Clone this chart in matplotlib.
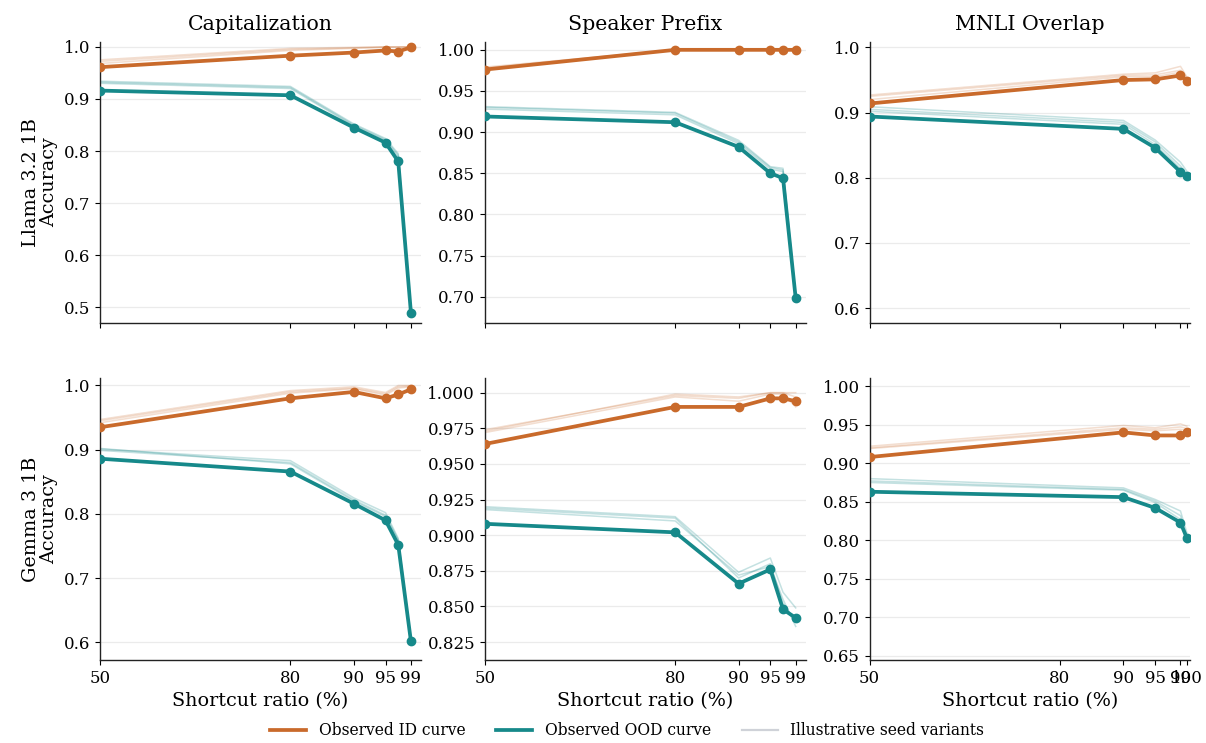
import matplotlib

matplotlib.use("Agg")
import matplotlib.pyplot as plt  # noqa: E402
from matplotlib.lines import Line2D  # noqa: E402
from matplotlib.ticker import MultipleLocator  # noqa: E402

ID_COL, OOD_COL, SEED_COL, GRID = "#c96a2b", "#16898a", "#cfd2d8", "#ebebeb"

plt.rcParams.update({
    "font.family": "DejaVu Serif", "font.size": 12,
    "axes.edgecolor": "#222222", "axes.linewidth": 1.0,
    "xtick.labelsize": 12, "ytick.labelsize": 12,
})

X_STD = [50, 80, 90, 95, 97, 99]
X_MNLI = [50, 90, 95, 99, 100]
XTICKS_STD = [50, 80, 90, 95, 99]
XTICKS_MNLI = [50, 80, 90, 95, 99, 100]

TASKS = ["Capitalization", "Speaker Prefix", "MNLI Overlap"]
MODELS = ["Llama 3.2 1B", "Gemma 3 1B"]

# Llama 3.2 1B
L_CAP_ID = [0.961, 0.983, 0.989, 0.993, 0.991, 0.999]
L_CAP_ID_SEEDS = [[0.972, 0.995, 0.998, 1.000, 1.000, 1.000],
                  [0.968, 0.993, 0.997, 0.999, 0.999, 1.000],
                  [0.975, 0.997, 0.999, 1.000, 1.000, 1.000]]
L_CAP_OOD = [0.916, 0.907, 0.845, 0.816, 0.780, 0.490]
L_CAP_OOD_SEEDS = [[0.932, 0.922, 0.850, 0.822, 0.792, 0.492],
                   [0.930, 0.920, 0.848, 0.820, 0.788, 0.490],
                   [0.934, 0.924, 0.852, 0.824, 0.795, 0.494]]

L_SPK_ID = [0.976, 1.000, 1.000, 1.000, 1.000, 1.000]
L_SPK_ID_SEEDS = [[0.978, 1.000, 1.000, 1.000, 1.000, 1.000],
                  [0.977, 1.000, 1.000, 1.000, 1.000, 1.000],
                  [0.979, 1.000, 1.000, 1.000, 1.000, 1.000]]
L_SPK_OOD = [0.919, 0.912, 0.882, 0.850, 0.844, 0.698]
L_SPK_OOD_SEEDS = [[0.930, 0.923, 0.888, 0.857, 0.854, 0.700],
                   [0.928, 0.921, 0.886, 0.855, 0.852, 0.699],
                   [0.931, 0.924, 0.890, 0.858, 0.856, 0.701]]

L_MNLI_ID = [0.914, 0.950, 0.951, 0.957, 0.949]
L_MNLI_ID_SEEDS = [[0.927, 0.959, 0.961, 0.971, 0.955],
                   [0.925, 0.957, 0.958, 0.965, 0.953],
                   [0.920, 0.955, 0.955, 0.962, 0.951]]
L_MNLI_OOD = [0.894, 0.875, 0.846, 0.809, 0.802]
L_MNLI_OOD_SEEDS = [[0.909, 0.888, 0.858, 0.824, 0.810],
                    [0.905, 0.885, 0.855, 0.818, 0.806],
                    [0.902, 0.882, 0.851, 0.814, 0.804]]

# Gemma 3 1B
G_CAP_ID = [0.935, 0.980, 0.990, 0.980, 0.986, 0.994]
G_CAP_ID_SEEDS = [[0.947, 0.992, 0.998, 0.989, 1.000, 1.000],
                  [0.945, 0.990, 0.996, 0.987, 0.998, 0.999],
                  [0.942, 0.988, 0.995, 0.985, 0.996, 0.998]]
G_CAP_OOD = [0.886, 0.866, 0.816, 0.790, 0.752, 0.602]
G_CAP_OOD_SEEDS = [[0.901, 0.883, 0.825, 0.802, 0.762, 0.604],
                   [0.899, 0.880, 0.822, 0.798, 0.760, 0.600],
                   [0.902, 0.878, 0.820, 0.796, 0.758, 0.606]]

G_SPK_ID = [0.964, 0.990, 0.990, 0.996, 0.996, 0.994]
G_SPK_ID_SEEDS = [[0.973, 0.999, 0.997, 1.000, 1.000, 1.000],
                  [0.972, 0.997, 0.994, 0.999, 0.999, 0.990],
                  [0.974, 0.998, 0.996, 1.000, 1.000, 0.997]]
G_SPK_OOD = [0.908, 0.902, 0.866, 0.876, 0.848, 0.842]
G_SPK_OOD_SEEDS = [[0.920, 0.913, 0.874, 0.884, 0.860, 0.849],
                   [0.918, 0.910, 0.872, 0.878, 0.855, 0.836],
                   [0.919, 0.912, 0.870, 0.880, 0.852, 0.840]]

G_MNLI_ID = [0.908, 0.940, 0.936, 0.936, 0.941]
G_MNLI_ID_SEEDS = [[0.922, 0.949, 0.946, 0.951, 0.948],
                   [0.919, 0.944, 0.942, 0.944, 0.942],
                   [0.920, 0.946, 0.944, 0.947, 0.945]]
G_MNLI_OOD = [0.863, 0.856, 0.842, 0.823, 0.803]
G_MNLI_OOD_SEEDS = [[0.880, 0.868, 0.853, 0.838, 0.810],
                    [0.875, 0.865, 0.849, 0.827, 0.797],
                    [0.877, 0.866, 0.851, 0.832, 0.805]]

YLIMS = [[(0.47, 1.01), (0.668, 1.01), (0.577, 1.009)],
         [(0.573, 1.011), (0.8126, 1.01), (0.645, 1.01)]]
YSTEPS = [[0.1, 0.05, 0.1], [0.1, 0.025, 0.05]]

PANELS = [
    [(X_STD, XTICKS_STD, L_CAP_ID, L_CAP_ID_SEEDS, L_CAP_OOD, L_CAP_OOD_SEEDS),
     (X_STD, XTICKS_STD, L_SPK_ID, L_SPK_ID_SEEDS, L_SPK_OOD, L_SPK_OOD_SEEDS),
     (X_MNLI, XTICKS_MNLI, L_MNLI_ID, L_MNLI_ID_SEEDS, L_MNLI_OOD, L_MNLI_OOD_SEEDS)],
    [(X_STD, XTICKS_STD, G_CAP_ID, G_CAP_ID_SEEDS, G_CAP_OOD, G_CAP_OOD_SEEDS),
     (X_STD, XTICKS_STD, G_SPK_ID, G_SPK_ID_SEEDS, G_SPK_OOD, G_SPK_OOD_SEEDS),
     (X_MNLI, XTICKS_MNLI, G_MNLI_ID, G_MNLI_ID_SEEDS, G_MNLI_OOD, G_MNLI_OOD_SEEDS)],
]

fig, axes = plt.subplots(2, 3, figsize=(12.06, 7.43), dpi=100)
fig.subplots_adjust(left=0.083, right=0.987, top=0.944, bottom=0.112,
                    wspace=0.2, hspace=0.197)

for r in range(2):
    for c in range(3):
        ax = axes[r, c]
        x, xt, id_main, id_seeds, ood_main, ood_seeds = PANELS[r][c]
        for s in id_seeds:
            ax.plot(x, s, color=ID_COL, lw=1.1, alpha=0.22, zorder=2)
        for s in ood_seeds:
            ax.plot(x, s, color=OOD_COL, lw=1.1, alpha=0.25, zorder=2)
        ax.plot(x, id_main, "-o", color=ID_COL, lw=2.7, ms=6, zorder=3)
        ax.plot(x, ood_main, "-o", color=OOD_COL, lw=2.7, ms=6, zorder=3)

        ax.set_xlim(50, 100.55)
        ax.set_xticks(xt)
        ax.set_ylim(*YLIMS[r][c])
        ax.yaxis.set_major_locator(MultipleLocator(YSTEPS[r][c]))
        ax.grid(axis="y", color=GRID, lw=0.9)
        ax.set_axisbelow(True)
        ax.spines["top"].set_visible(False)
        ax.spines["right"].set_visible(False)
        if r == 0:
            ax.set_title(TASKS[c], fontsize=14.8, pad=8)
            ax.tick_params(axis="x", labelbottom=False)
        else:
            ax.set_xlabel("Shortcut ratio (%)", fontsize=13.8, labelpad=4)
        if c == 0:
            ax.set_ylabel(f"{MODELS[r]}\nAccuracy", fontsize=13.8, linespacing=1.0)

handles = [Line2D([], [], color=ID_COL, lw=2.7),
           Line2D([], [], color=OOD_COL, lw=2.7),
           Line2D([], [], color=SEED_COL, lw=1.6)]
labels = ["Observed ID curve", "Observed OOD curve", "Illustrative seed variants"]
fig.legend(handles, labels, loc="lower center", ncol=3, frameon=False,
           fontsize=11.2, bbox_to_anchor=(0.52, -0.014), columnspacing=2.0,
           handlelength=2.3)

fig.savefig("out.png", dpi=100)
